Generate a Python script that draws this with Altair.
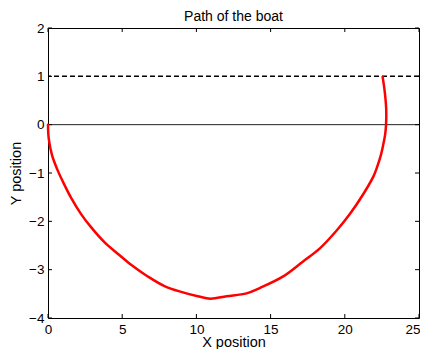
import altair as alt
import pandas as pd

# ---- data ----
path_x = [0.0, 0.05, 0.27, 0.63, 0.99, 1.55, 2.23, 2.90, 3.80, 4.70, 5.60, 6.72,
          7.85, 8.97, 10.09, 10.95, 12.03, 13.38, 14.27, 15.85, 17.19, 18.32,
          19.45, 20.34, 21.24, 21.93, 22.15, 22.44, 22.60, 22.72, 22.78, 22.79,
          22.70, 22.55]
path_y = [0.0, -0.29, -0.63, -0.93, -1.17, -1.51, -1.85, -2.12, -2.43, -2.67,
          -2.90, -3.14, -3.34, -3.46, -3.55, -3.60, -3.55, -3.49, -3.38, -3.14,
          -2.83, -2.56, -2.19, -1.85, -1.44, -1.07, -0.90, -0.62, -0.40, -0.20,
          0.0, 0.32, 0.66, 0.99]
x_ticks = [0, 5, 10, 15, 20, 25]
y_ticks = [-4, -3, -2, -1, 0, 1, 2]
target_line = [1]
zero_line = [0]

W, H = 371, 290
FONT = "Liberation Sans"

path_df = pd.DataFrame({"x": path_x, "y": path_y, "i": list(range(len(path_x)))})
xt_df = pd.DataFrame({"x": x_ticks})
yt_df = pd.DataFrame({"y": y_ticks})
target_df = pd.DataFrame({"y": target_line})
zero_df = pd.DataFrame({"y": zero_line})

xscale = alt.Scale(domain=[0, 25], nice=False, zero=False)
yscale = alt.Scale(domain=[-4, 2], nice=False, zero=False)

xaxis = alt.Axis(values=x_ticks, format="d", ticks=False, tickSize=0, domain=False,
                 grid=False, labelPadding=4, labelFontSize=13.5, labelColor="black",
                 labelFont=FONT, labelFlush=False, labelOverlap=False,
                 labelOffset={"condition": {"test": "datum.value == 25", "value": -6.5},
                              "value": 0},
                 title="X position", titleFont=FONT, titleFontSize=14.5,
                 titleFontWeight="normal", titleColor="black",
                 titleY=28, titleBaseline="alphabetic")
yaxis = alt.Axis(values=y_ticks, format="d", ticks=False, tickSize=0, domain=False,
                 grid=False, labelPadding=4, labelFontSize=13.5, labelColor="black",
                 labelFont=FONT, labelFlush=False, labelOverlap=False,
                 title="Y position", titleFont=FONT, titleFontSize=14.5,
                 titleFontWeight="normal", titleColor="black",
                 titleX=-28, titleY=H / 2, titleAngle=270, titleAlign="center",
                 titleBaseline="alphabetic")

X = alt.X("x:Q", scale=xscale, axis=xaxis)
Y = alt.Y("y:Q", scale=yscale, axis=yaxis)

path = alt.Chart(path_df).mark_line(color="#ff0000", strokeWidth=2.5,
                                    interpolate="catmull-rom", strokeCap="round").encode(
    x=X, y=Y, order="i:Q")

target = alt.Chart(target_df).mark_rule(color="black", strokeWidth=1.5,
                                        strokeDash=[5, 3]).encode(y=Y)
zero = alt.Chart(zero_df).mark_rule(color="#222222", strokeWidth=1).encode(y=Y)

tick_style = dict(color="black", strokeWidth=1)
bt = alt.Chart(xt_df).mark_rule(**tick_style).encode(x=X, y=alt.value(H - 4), y2=alt.value(H))
tt = alt.Chart(xt_df).mark_rule(**tick_style).encode(x=X, y=alt.value(0), y2=alt.value(4))
lt = alt.Chart(yt_df).mark_rule(**tick_style).encode(y=Y, x=alt.value(0), x2=alt.value(4))
rt = alt.Chart(yt_df).mark_rule(**tick_style).encode(y=Y, x=alt.value(W - 4), x2=alt.value(W))

chart = alt.layer(zero, target, bt, tt, lt, rt, path).properties(
    width=W, height=H,
    title=alt.TitleParams("Path of the boat", font=FONT, fontSize=14, fontWeight="normal",
                          color="black", offset=0, dy=3, anchor="middle"),
    autosize=alt.AutoSizeParams(type="none"),
    padding={"left": 40, "top": 20, "right": 1, "bottom": 31},
    background="white",
).configure_view(stroke="black", strokeWidth=1)

chart.save("out.html", embed_options={"renderer": "svg", "actions": False})
